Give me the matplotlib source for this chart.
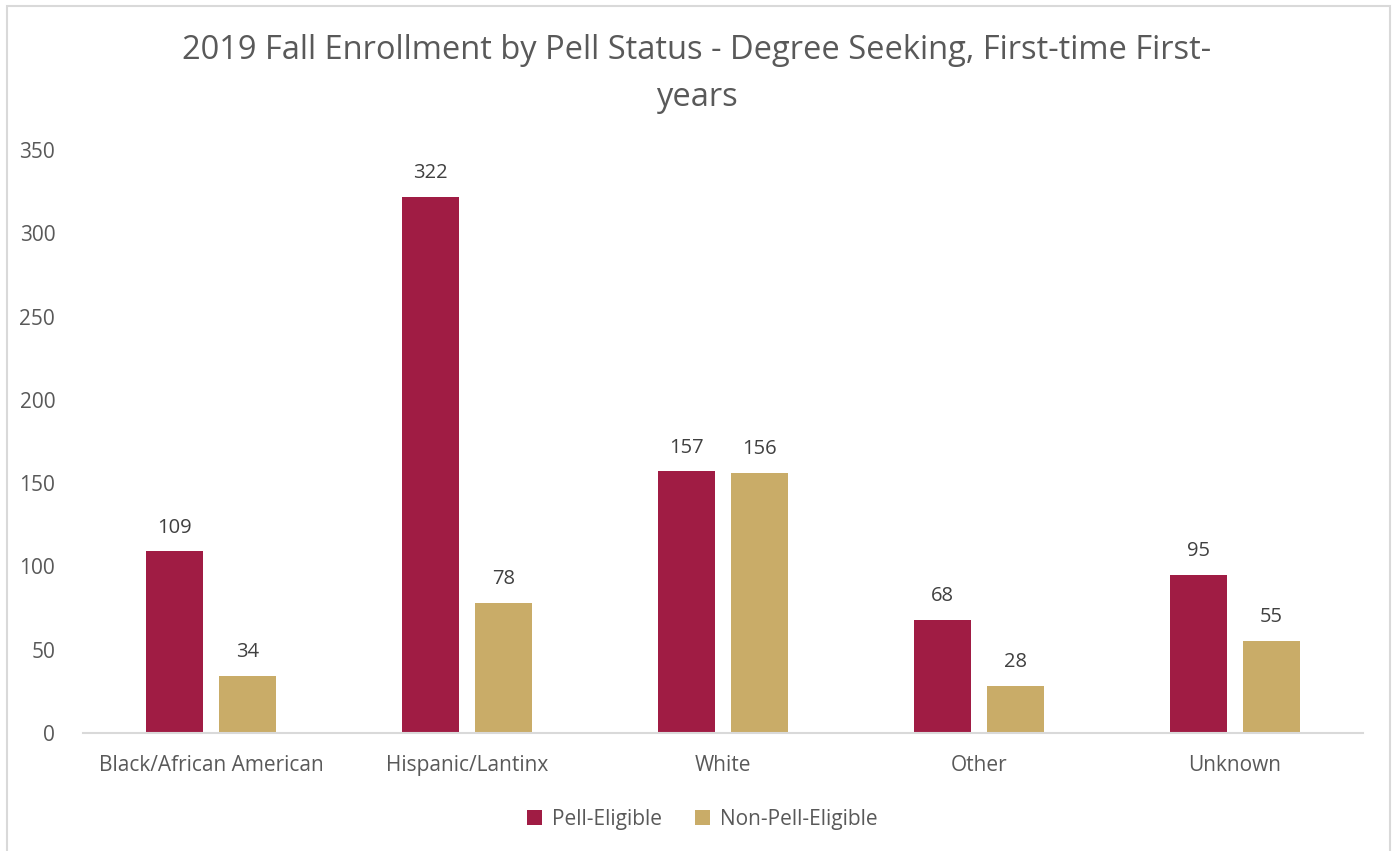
import matplotlib.pyplot as plt
import numpy as np
from matplotlib.patches import Rectangle

categories = ["Black/African American", "Hispanic/Lantinx", "White", "Other", "Unknown"]
pell = [109, 322, 157, 68, 95]
non_pell = [34, 78, 156, 28, 55]
y_ticks = [0, 50, 100, 150, 200, 250, 300, 350]

PELL_COLOR = "#A01C44"
NON_PELL_COLOR = "#C9AC68"
TEXT_COLOR = "#595959"

plt.rcParams.update({
    "font.family": ["Open Sans", "DejaVu Sans"],
    "text.color": TEXT_COLOR,
})

fig = plt.figure(figsize=(13.93, 8.51), dpi=100)
ax = fig.add_axes([0.0596, 0.1387, 0.9189, 0.685])

# chart frame
fig.patches.append(Rectangle((0.005, -0.01), 0.993, 1.003, transform=fig.transFigure,
                             fill=False, edgecolor="#D9D9D9", linewidth=1.5))

x = np.arange(len(categories))
width = 0.223
offset = 0.1426
b1 = ax.bar(x - offset, pell, width, color=PELL_COLOR, label="Pell-Eligible")
b2 = ax.bar(x + offset, non_pell, width, color=NON_PELL_COLOR, label="Non-Pell-Eligible")

for bars in (b1, b2):
    ax.bar_label(bars, padding=10, fontsize=14.5, color="#404040")

ax.set_xlim(-0.5, len(categories) - 0.5)
ax.set_ylim(0, 350)
ax.set_yticks(y_ticks)
ax.set_xticks(x)
ax.set_xticklabels(categories)
ax.tick_params(axis="both", length=0, labelsize=15, labelcolor=TEXT_COLOR)
ax.tick_params(axis="x", pad=16)
ax.tick_params(axis="y", pad=20)

for side in ("top", "right", "left"):
    ax.spines[side].set_visible(False)
ax.spines["bottom"].set_color("#D9D9D9")
ax.spines["bottom"].set_linewidth(1.5)

fig.text(0.5, 0.913, "2019 Fall Enrollment by Pell Status - Degree Seeking, First-time First-\nyears",
         ha="center", va="center", fontsize=23.5, color=TEXT_COLOR, linespacing=1.55)

ax.legend(loc="upper center", bbox_to_anchor=(0.484, -0.098), ncol=2, frameon=False,
          fontsize=15, handlelength=0.7, handleheight=0.7, columnspacing=1.6,
          handletextpad=0.5, labelcolor=TEXT_COLOR)

fig.savefig("out.png", dpi=100)
